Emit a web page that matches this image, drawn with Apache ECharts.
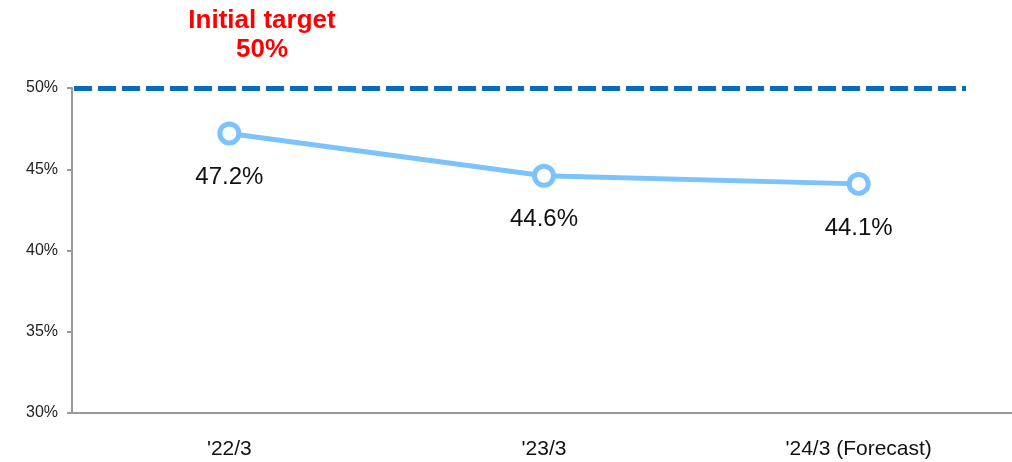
<!DOCTYPE html>
<html>
<head>
<meta charset="utf-8">
<script src="https://cdn.jsdelivr.net/npm/echarts@6/dist/echarts.min.js"></script>
<style>
  html, body { margin: 0; padding: 0; background: #fff; overflow: hidden; }
  #chart { width: 1016px; height: 462px; }
</style>
</head>
<body>
<div id="chart"></div>
<script>
const categories = ["'22/3", "'23/3", "'24/3 (Forecast)"];
const ratio = [47.2, 44.6, 44.1];
const target = 50;
const yTicks = { min: 30, max: 50, interval: 5 };

const chart = echarts.init(document.getElementById('chart'));

chart.setOption({
  animation: false,
  title: {
    text: 'Initial target\n' + target + '%',
    left: 257,
    top: 1,
    textAlign: 'center',
    textStyle: {
      color: '#ff0000',
      fontFamily: 'Liberation Sans, Arial, sans-serif',
      fontWeight: 'bold',
      fontSize: 26,
      lineHeight: 29
    }
  },
  grid: { left: 72, top: 88, right: 0, bottom: 49, containLabel: false },
  xAxis: {
    type: 'category',
    data: categories,
    boundaryGap: true,
    axisLine: { lineStyle: { color: '#999', width: 2 } },
    axisTick: { show: false },
    axisLabel: {
      color: '#111',
      fontSize: 21,
      fontFamily: 'Liberation Sans, Arial, sans-serif',
      margin: 26
    }
  },
  yAxis: {
    type: 'value',
    min: yTicks.min,
    max: yTicks.max,
    interval: yTicks.interval,
    splitLine: { show: false },
    axisLine: { show: true, lineStyle: { color: '#999', width: 2 } },
    axisTick: { show: true, length: 5, lineStyle: { color: '#999', width: 2 } },
    axisLabel: {
      formatter: '{value}%',
      color: '#222',
      fontSize: 16,
      fontFamily: 'Liberation Sans, Arial, sans-serif',
      margin: 14
    }
  },
  series: [{
    type: 'line',
    data: ratio,
    symbol: 'circle',
    symbolSize: 19,
    lineStyle: { color: '#7cc2fb', width: 5 },
    itemStyle: { color: '#ffffff', borderColor: '#7cc2fb', borderWidth: 5 },
    label: {
      show: true,
      position: 'bottom',
      distance: 20,
      formatter: p => p.value.toFixed(1) + '%',
      color: '#111',
      fontSize: 24,
      fontFamily: 'Liberation Sans, Arial, sans-serif'
    },
    markLine: {
      silent: true,
      symbol: ['none', 'none'],
      label: { show: false },
      lineStyle: { color: '#0a6abd', width: 5, type: [18, 6] },
      data: [[{ yAxis: target, x: 74 }, { yAxis: target, x: 966 }]]
    }
  }]
});
</script>
</body>
</html>
